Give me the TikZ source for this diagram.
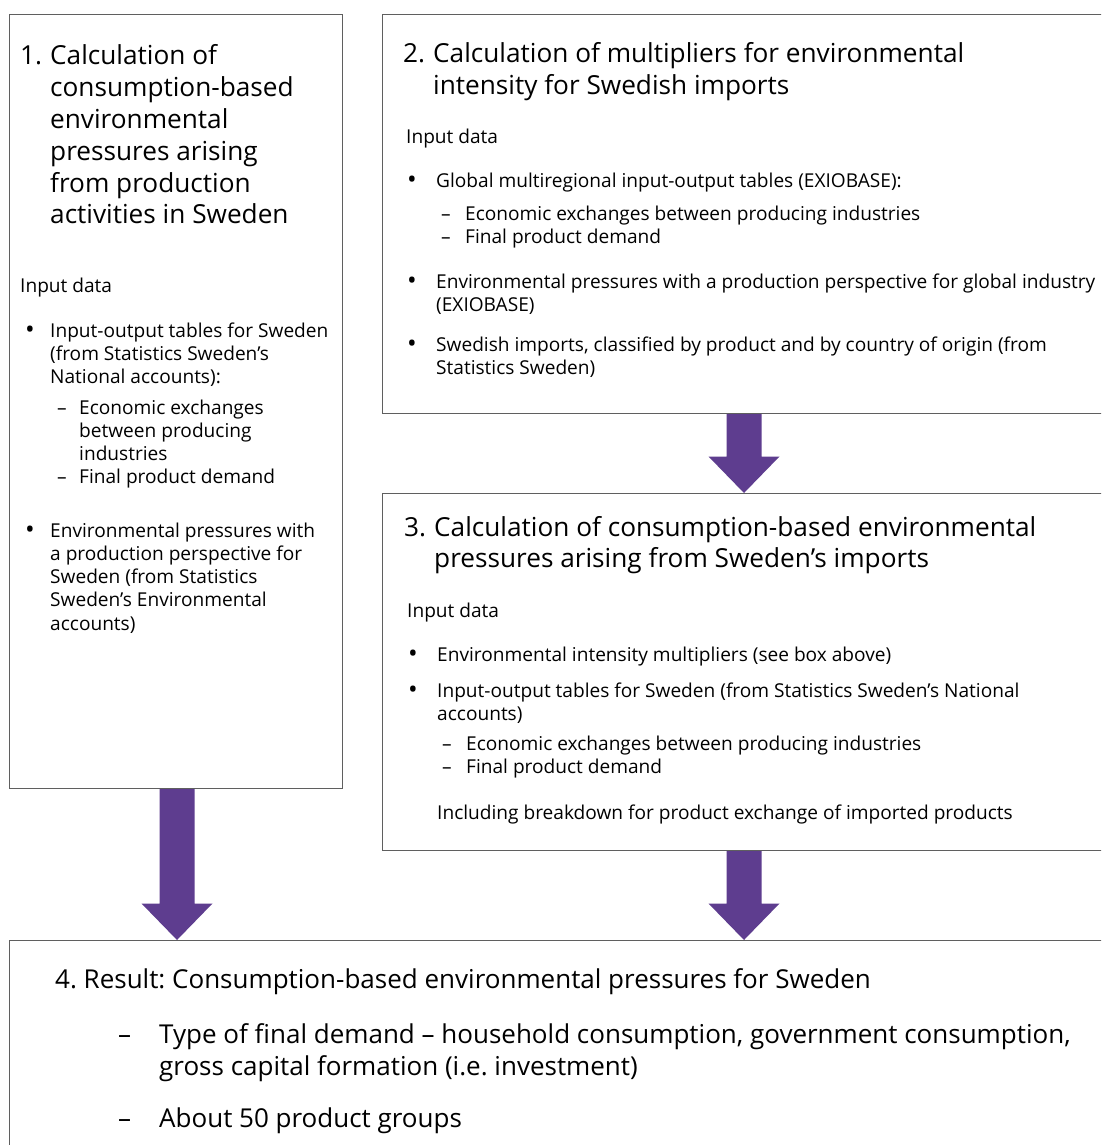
\documentclass[tikz,border=0pt]{standalone}
\usepackage{fontspec}
\setmainfont{Open Sans}
\usetikzlibrary{calc}
\definecolor{arrowc}{RGB}{94,61,143}
\definecolor{boxc}{RGB}{95,95,95}
\newcommand\ml[1]{\begin{tabular}[t]{@{}l@{}}#1\end{tabular}}
\newcommand\bul{\raisebox{-0.08em}{\scalebox{1.35}{•}}}
\frenchspacing
\begin{document}
\begin{tikzpicture}[x=1pt,y=-1pt,
  box/.style={draw=boxc, line width=1.2pt, rectangle, inner sep=0pt, anchor=north west},
  body/.style={anchor=base west, inner sep=0pt, font=\fontsize{19.1}{23.3}\selectfont\frenchspacing},
  ttl/.style={anchor=base west, inner sep=0pt, font=\fontsize{26.2}{31.8}\selectfont\frenchspacing},
  big/.style={anchor=base west, inner sep=0pt, font=\fontsize{26}{32}\selectfont\frenchspacing},
]
\clip (0,0) rectangle (1101,1145);
\fill[white] (0,0) rectangle (1101,1145);
% boxes
\node[box, minimum width=333pt, minimum height=774pt] (b1) at (9,14) {};
\node[box, minimum width=740pt, minimum height=399pt] (b2) at (382,14) {};
\node[box, minimum width=740pt, minimum height=357pt] (b3) at (382,493) {};
\node[box, minimum width=1110pt, minimum height=260pt] (b4) at (9,940) {};
% arrows
\coordinate (ax1) at (177,0);
\coordinate (ax2) at (744,0);
\newcommand\fatarrow[3]{%
  \fill[arrowc] ($(#1 |- #2.south)+(-17.5,0)$) -- ($(#1 |- #3.north)+(-17.5,-36.5)$)
    -- ($(#1 |- #3.north)+(-35.5,-36.5)$) -- (#1 |- #3.north)
    -- ($(#1 |- #3.north)+(35.5,-36.5)$) -- ($(#1 |- #3.north)+(17.5,-36.5)$)
    -- ($(#1 |- #2.south)+(17.5,0)$) -- cycle;}
\fatarrow{ax1}{b1}{b4}
\fatarrow{ax2}{b2}{b3}
\fatarrow{ax2}{b3}{b4}
% box 1
\node[ttl] (t1n) at (20,65) {1.};
\node[ttl] (t1) at (50,65) {\ml{Calculation of\\consumption-based\\environmental\\pressures arising\\from production\\activities in Sweden}};
\node[body] (i1) at (20,292) {Input data};
\node[body] (b1p1) at (25,337) {\bul};
\node[body] (b1t1) at (50,337) {\ml{Input-output tables for Sweden\\(from Statistics Sweden’s\\National accounts):}};
\node[body] (b1d1) at (57,414) {–};
\node[body] (b1s1) at (79,414) {\ml{Economic exchanges\\between producing\\industries}};
\node[body] (b1d2) at (57,483) {–};
\node[body] (b1s2) at (79,483) {Final product demand};
\node[body] (b1p2) at (25,537) {\bul};
\node[body] (b1t2) at (50,537) {\ml{Environmental pressures with\\a production perspective for\\Sweden (from Statistics\\Sweden’s Environmental\\accounts)}};
% box 2
\node[ttl] (t2n) at (403,63) {2.};
\node[ttl] (t2) at (433,63) {\ml{Calculation of multipliers for environmental\\intensity for Swedish imports}};
\node[body] (i2) at (406,143) {Input data};
\node[body] (b2p1) at (407,187) {\bul};
\node[body] (b2t1) at (436,187) {Global multiregional input-output tables (EXIOBASE):};
\node[body] (b2d1) at (441,220) {–};
\node[body] (b2s1) at (465,220) {Economic exchanges between producing industries};
\node[body] (b2d2) at (441,243) {–};
\node[body] (b2s2) at (465,243) {Final product demand};
\node[body] (b2p2) at (407,288) {\bul};
\node[body] (b2t2) at (436,288) {\ml{Environmental pressures with a production perspective for global industry\\(EXIOBASE)}};
\node[body] (b2p3) at (407,351) {\bul};
\node[body] (b2t3) at (436,351) {\ml{Swedish imports, classified by product and by country of origin (from\\Statistics Sweden)}};
% box 3
\node[ttl] (t3n) at (404,536) {3.};
\node[ttl] (t3) at (434,536) {\ml{Calculation of consumption-based environmental\\pressures arising from Sweden’s imports}};
\node[body] (i3) at (407,617) {Input data};
\node[body] (b3p1) at (408,661) {\bul};
\node[body] (b3t1) at (437,661) {Environmental intensity multipliers (see box above)};
\node[body] (b3p2) at (408,697) {\bul};
\node[body] (b3t2) at (437,697) {\ml{Input-output tables for Sweden (from Statistics Sweden’s National\\accounts)}};
\node[body] (b3d1) at (442,750) {–};
\node[body] (b3s1) at (466,750) {Economic exchanges between producing industries};
\node[body] (b3d2) at (442,773) {–};
\node[body] (b3s2) at (466,773) {Final product demand};
\node[body] (b3i) at (437,819) {Including breakdown for product exchange of imported products};
% box 4
\node[big] (t4) at (55,988) {4. Result: Consumption-based environmental pressures for Sweden};
\node[big] (b4d1) at (118,1043) {–};
\node[big] (b4s1) at (159,1043) {\ml{Type of final demand – household consumption, government consumption,\\gross capital formation (i.e. investment)}};
\node[big] (b4d2) at (118,1127) {–};
\node[big] (b4s2) at (159,1127) {About 50 product groups};
\end{tikzpicture}
\end{document}
